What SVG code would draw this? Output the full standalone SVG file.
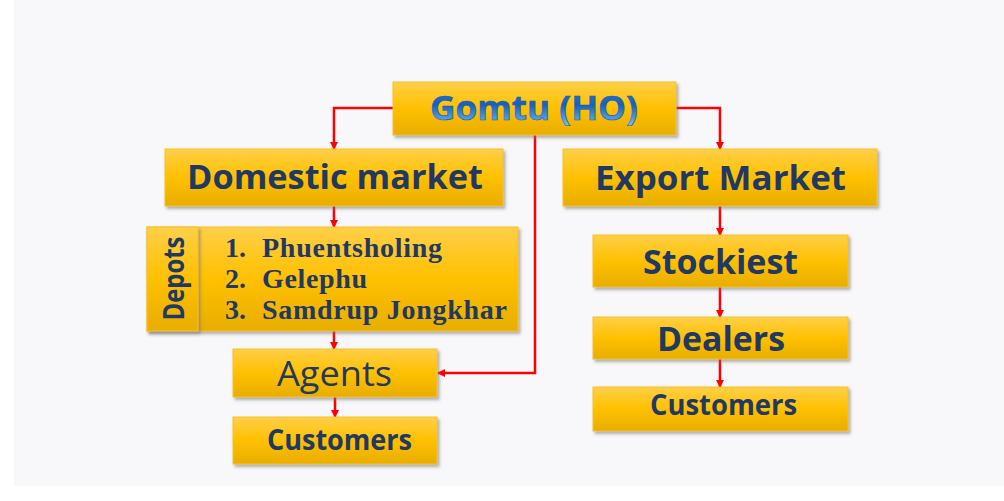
<svg xmlns="http://www.w3.org/2000/svg" width="1004" height="501" viewBox="0 0 1004 501">
<defs>
<linearGradient id="gold" x1="0" y1="0" x2="0" y2="1">
<stop offset="0" stop-color="#ffcf48"/>
<stop offset="0.5" stop-color="#ffc000"/>
<stop offset="1" stop-color="#e8ae00"/>
</linearGradient>
<linearGradient id="blueText" x1="0" y1="0" x2="0" y2="1">
<stop offset="0" stop-color="#2f7fd4"/>
<stop offset="0.45" stop-color="#1560bd"/>
<stop offset="0.75" stop-color="#4f9de0"/>
<stop offset="1" stop-color="#a9d6f7"/>
</linearGradient>
<filter id="shadow" x="-10%" y="-20%" width="120%" height="150%">
<feDropShadow dx="2" dy="2.5" stdDeviation="1.5" flood-color="#707070" flood-opacity="0.55"/>
</filter>
<marker id="arrow" markerWidth="8" markerHeight="8" refX="7" refY="4" orient="auto" markerUnits="userSpaceOnUse">
<path d="M0,0 L8,4 L0,8 Z" fill="#ff0000"/>
</marker>
</defs>
<style>
.box{fill:url(#gold);stroke:#f3c22e;stroke-width:1;filter:url(#shadow);}
.lbl{font-family:"Open Sans","Liberation Sans",sans-serif;font-weight:bold;fill:#1f3864;text-anchor:middle;}
.reg{font-family:"Open Sans","Liberation Sans",sans-serif;font-weight:normal;fill:#1f3864;text-anchor:middle;}
.serif{font-family:"Liberation Serif","DejaVu Serif",serif;font-weight:bold;fill:#1f3864;font-size:28px;}
.conn{fill:none;stroke:#ff0000;stroke-width:2.5;marker-end:url(#arrow);}
</style>
<rect x="0" y="0" width="1004" height="501" fill="#ffffff"/>
<rect x="14" y="0" width="990" height="486" fill="#f8f8fa"/>

<g id="connectors">
<path class="conn" d="M393,108 H334 V149"/>
<path class="conn" d="M676,108 H720 V149"/>
<path class="conn" d="M535,135 V373 H438"/>
<path class="conn" d="M334,206 V227"/>
<path class="conn" d="M334,331 V349"/>
<path class="conn" d="M335,397 V417"/>
<path class="conn" d="M720,206 V235"/>
<path class="conn" d="M720,287 V317"/>
<path class="conn" d="M720,359 V387"/>
</g>

<g id="gomtu">
<rect class="box" x="393" y="82" width="283" height="53"/>
<text x="534" y="120" font-family="Open Sans, Liberation Sans, sans-serif" font-weight="bold" font-size="34" text-anchor="middle" fill="url(#blueText)" stroke="#1a5aa8" stroke-width="0.6" textLength="208" lengthAdjust="spacingAndGlyphs">Gomtu (HO)</text>
</g>

<g id="domestic">
<rect class="box" x="165" y="149" width="338" height="57"/>
<text class="lbl" x="335" y="189" font-size="34" textLength="296" lengthAdjust="spacingAndGlyphs">Domestic market</text>
</g>

<g id="depots">
<rect class="box" x="147" y="227" width="371" height="104"/>
<rect class="box" x="147" y="227" width="51" height="104"/>
<text class="lbl" transform="translate(184,278.5) rotate(-90)" x="0" y="0" font-size="28" textLength="84" lengthAdjust="spacingAndGlyphs">Depots</text>
<text class="serif" x="225" y="257">1.</text>
<text class="serif" x="262" y="257" textLength="180">Phuentsholing</text>
<text class="serif" x="225" y="288">2.</text>
<text class="serif" x="262" y="288" textLength="105">Gelephu</text>
<text class="serif" x="225" y="319">3.</text>
<text class="serif" x="262" y="319" textLength="245">Samdrup Jongkhar</text>
</g>

<g id="agents">
<rect class="box" x="233" y="349" width="204" height="48"/>
<text class="reg" x="334.5" y="386" font-size="35" textLength="115" lengthAdjust="spacingAndGlyphs">Agents</text>
</g>

<g id="customers-left">
<rect class="box" x="233" y="417" width="204" height="47"/>
<text class="lbl" x="339.5" y="450" font-size="28" textLength="145" lengthAdjust="spacingAndGlyphs">Customers</text>
</g>

<g id="export">
<rect class="box" x="563" y="149" width="314" height="57"/>
<text class="lbl" x="720.5" y="190" font-size="34" textLength="251" lengthAdjust="spacingAndGlyphs">Export Market</text>
</g>

<g id="stockiest">
<rect class="box" x="593" y="235" width="255" height="52"/>
<text class="lbl" x="720.5" y="274" font-size="34" textLength="155" lengthAdjust="spacingAndGlyphs">Stockiest</text>
</g>

<g id="dealers">
<rect class="box" x="593" y="317" width="255" height="42"/>
<text class="lbl" x="721" y="351" font-size="34" textLength="128" lengthAdjust="spacingAndGlyphs">Dealers</text>
</g>

<g id="customers-right">
<rect class="box" x="593" y="387" width="255" height="44"/>
<text class="lbl" x="723.5" y="415" font-size="28" textLength="147" lengthAdjust="spacingAndGlyphs">Customers</text>
</g>
</svg>
